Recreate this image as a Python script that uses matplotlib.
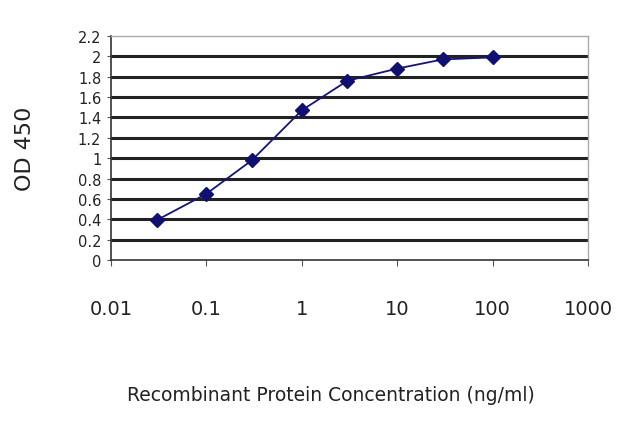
import matplotlib.pyplot as plt
import numpy as np

conc = [0.03, 0.1, 0.3, 1, 3, 10, 30, 100]
od = [0.39, 0.65, 0.98, 1.47, 1.76, 1.88, 1.97, 1.99]

x_ticks = [0.01, 0.1, 1, 10, 100, 1000]
x_labels = ["0.01", "0.1", "1", "10", "100", "1000"]
y_ticks = [0, 0.2, 0.4, 0.6, 0.8, 1, 1.2, 1.4, 1.6, 1.8, 2, 2.2]
y_labels = ["0", "0.2", "0.4", "0.6", "0.8", "1", "1.2", "1.4", "1.6", "1.8", "2", "2.2"]

fig = plt.figure(figsize=(6.4, 4.27), dpi=100)
ax = fig.add_axes([111 / 640, 1 - 261 / 427, 477 / 640, 224 / 427])

for y in y_ticks[1:-1]:
    ax.axhline(y, color="#222222", linewidth=2.2, zorder=1)

ax.plot(conc, od, color="#14147a", linewidth=1.3, marker="D", markersize=7,
        markerfacecolor="#101070", markeredgecolor="#101070", zorder=3)

ax.set_xscale("log")
ax.set_xlim(0.01, 1000)
ax.set_ylim(0, 2.2)
ax.set_xticks(x_ticks)
ax.set_xticklabels(x_labels, fontsize=14, color="#222222")
ax.minorticks_off()
ax.set_yticks(y_ticks)
ax.set_yticklabels(y_labels, fontsize=10.5, color="#222222")
ax.tick_params(axis="x", length=4, pad=24, color="#555555")
ax.tick_params(axis="y", length=3, pad=4, color="#555555")

for side in ["left", "bottom"]:
    ax.spines[side].set_color("#333333")
    ax.spines[side].set_linewidth(1.2)
for side in ["top", "right"]:
    ax.spines[side].set_color("#aaaaaa")
    ax.spines[side].set_linewidth(1.0)

ax.set_ylabel("OD 450", fontsize=16, color="#222222")
ax.yaxis.set_label_coords(-0.16, 0.5)
ax.set_xlabel("Recombinant Protein Concentration (ng/ml)", fontsize=13.5,
              color="#222222")
ax.xaxis.set_label_coords(0.46, -0.56)

fig.savefig("out.png", dpi=100)
